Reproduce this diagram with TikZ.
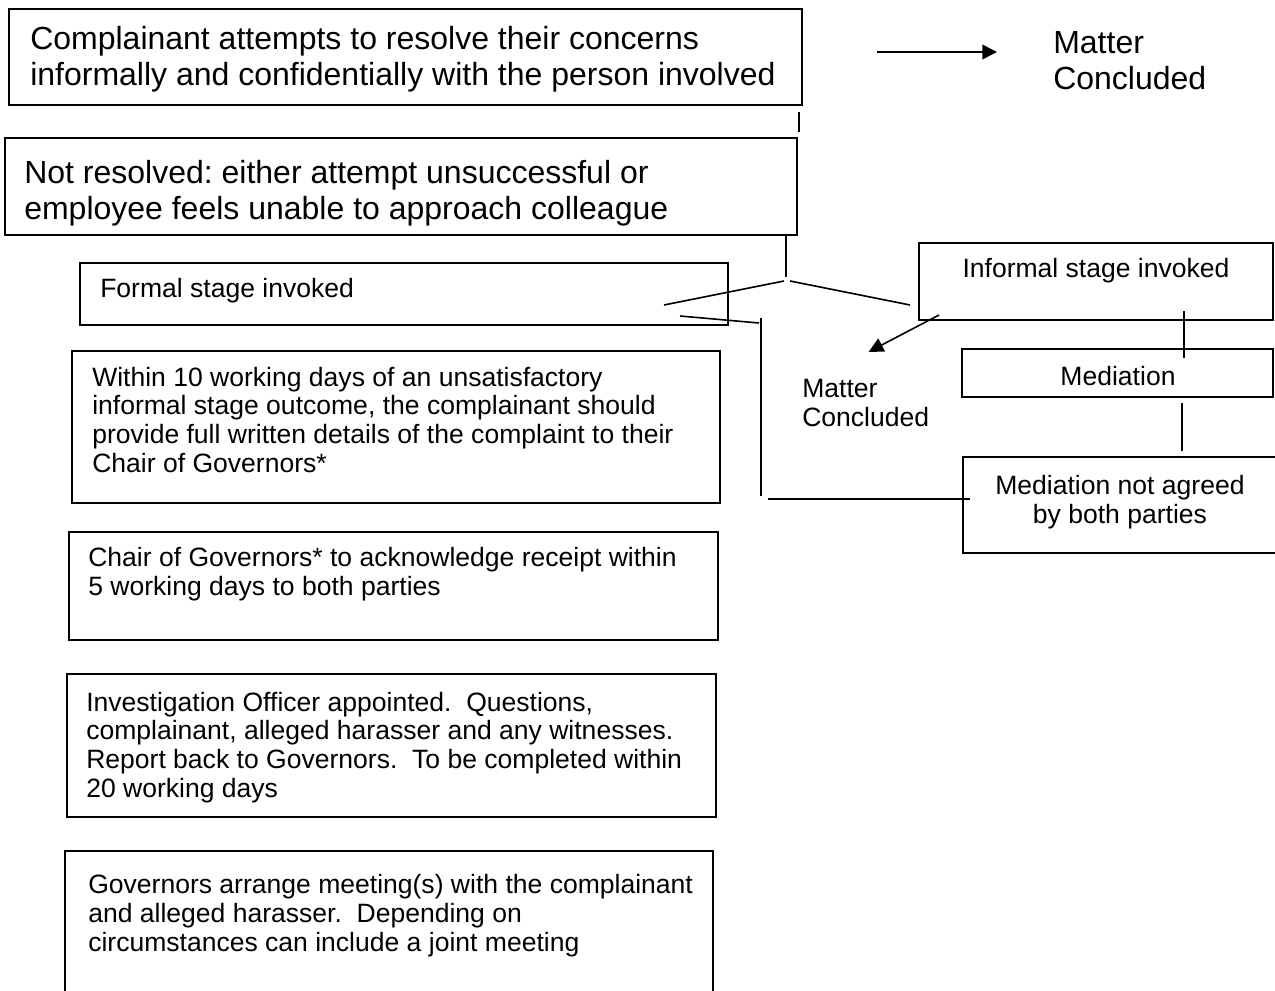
\documentclass[tikz,border=0pt]{standalone}
\usepackage{fontspec}
\setmainfont{Liberation Sans}
\usetikzlibrary{arrows.meta,fit}
\frenchspacing

\tikzset{
  stagebox/.style={draw, line width=1.3pt, inner sep=0pt, outer sep=0pt},
  bigtext/.style={font=\fontsize{24pt}{27pt}\selectfont, inner sep=0pt, align=left},
  smalltext/.style={font=\fontsize{19.9pt}{21.5pt}\selectfont, inner sep=0pt, align=left},
  link/.style={line width=1.2pt},
  arrowlink/.style={link, -{Triangle[length=11pt,width=11pt]}}
}

\begin{document}
\begin{tikzpicture}[x=0.75pt,y=-0.75pt]
  \useasboundingbox (0,0) rectangle (1275,990);
  \clip (0,0) rectangle (1275,990);

  % left column
  \node[stagebox, fit={(9,9) (802,105)}] (attempt) {};
  \node[stagebox, fit={(5,138) (797,235)}] (notresolved) {};
  \node[stagebox, fit={(80,263) (728,325)}] (formal) {};
  \node[stagebox, fit={(72,351) (720,503)}] (within) {};
  \node[stagebox, fit={(69,532) (718,640)}] (chair) {};
  \node[stagebox, fit={(67,674) (716,817)}] (investigate) {};
  \node[stagebox, fit={(65,851) (713,1000)}] (meeting) {};

  % right column
  \node[stagebox, fit={(919,243) (1273,320)}] (informal) {};
  \node[stagebox, fit={(962,349) (1273,397)}] (mediation) {};
  \node[stagebox, fit={(963,457) (1285,553)}] (notagreed) {};

  % texts (base = last line)
  \node[bigtext, anchor=base west] (attempt-text) at (30,85)
    {Complainant attempts to resolve their concerns\\informally and confidentially with the person involved};
  \node[bigtext, anchor=base west] (notresolved-text) at (24,219)
    {Not resolved: either attempt unsuccessful or\\employee feels unable to approach colleague};
  \node[smalltext, anchor=base west] (formal-text) at (100,297) {Formal stage invoked};
  \node[smalltext, anchor=base west] (within-text) at (92,472)
    {Within 10 working days of an unsatisfactory\\informal stage outcome, the complainant should\\provide full written details of the complaint to their\\Chair of Governors*};
  \node[smalltext, anchor=base west] (chair-text) at (88,595)
    {Chair of Governors* to acknowledge receipt within\\5 working days to both parties};
  \node[smalltext, anchor=base west] (investigate-text) at (86,797)
    {Investigation Officer appointed.\ \ Questions,\\complainant, alleged harasser and any witnesses.\\Report back to Governors.\ \ To be completed within\\20 working days};
  \node[smalltext, anchor=base west] (meeting-text) at (88,951)
    {Governors arrange meeting(s) with the complainant\\and alleged harasser.\ \ Depending on\\circumstances can include a joint meeting};
  \node[smalltext, anchor=base] (informal-text) at (1096,277) {Informal stage invoked};
  \node[smalltext, anchor=base] (mediation-text) at (1118,385) {Mediation};
  \node[smalltext, anchor=base, align=center] (notagreed-text) at (1120,523)
    {Mediation not agreed\\by both parties};
  \node[bigtext, anchor=base west] (concluded-top) at (1053,89) {Matter\\Concluded};
  \node[smalltext, anchor=base west] (concluded-mid) at (802,426) {Matter\\Concluded};

  % connectors
  \coordinate (fork) at (786,279);
  \draw[link] ([shift={(-3,7)}]attempt.south east) -- ([shift={(-3,27)}]attempt.south east);
  \draw[arrowlink] ([shift={(75,-5)}]attempt.east) -- ([shift={(195,-5)}]attempt.east);
  \draw[link] ([shift={(0,-44)}]fork) -- ([shift={(0,-2)}]fork);
  \draw[link] ([shift={(-2,2)}]fork) -- ([shift={(-122,26)}]fork);
  \draw[link] ([shift={(4,2)}]fork) -- ([shift={(124,26)}]fork);
  \draw[link] ([shift={(-48,-9)}]formal.south east) -- ([shift={(31,-2)}]formal.south east);
  \draw[link] ([shift={(33,-7)}]formal.south east) -- ([shift={(33,-7)}]formal.south east |- within.south);
  \draw[link] ([shift={(-195,-6)}]notagreed.west) -- ([shift={(7,-6)}]notagreed.west);
  \draw[arrowlink] ([shift={(20,-5)}]informal.south west) -- ([shift={(3,-27)}]concluded-mid.north);
  \draw[link] ([shift={(-89,-9)}]informal.south east) -- ([shift={(-89,9)}]mediation.north east);
  \draw[link] ([shift={(-91,6)}]mediation.south east) -- ([shift={(-91,54)}]mediation.south east);
\end{tikzpicture}
\end{document}
